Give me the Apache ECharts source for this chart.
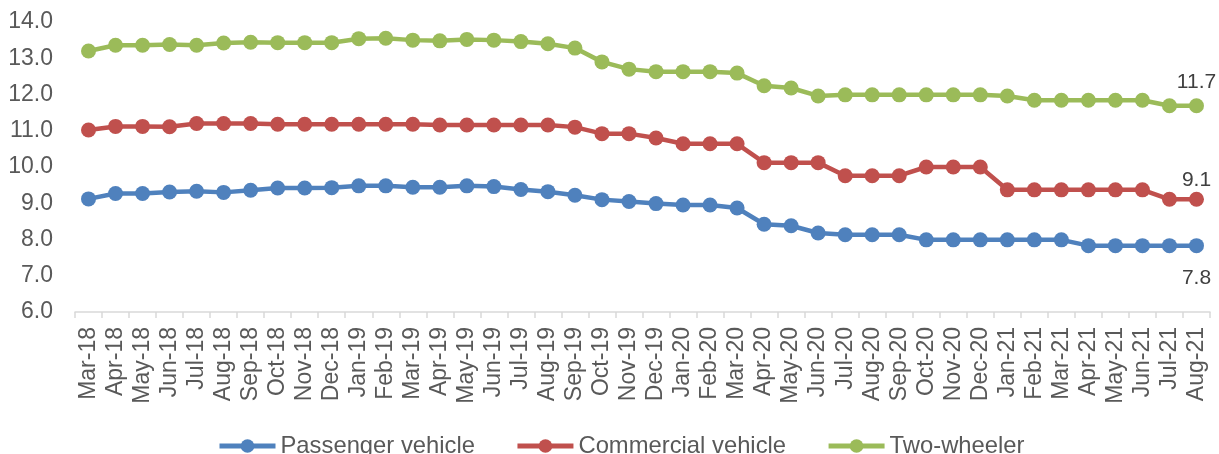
<!DOCTYPE html>
<html>
<head>
<meta charset="utf-8">
<script src="https://cdn.jsdelivr.net/npm/echarts@6/dist/echarts.min.js"></script>
<style>
  html, body { margin: 0; padding: 0; background: #fff; }
  #myChart { width: 1219px; height: 454px; }
</style>
</head>
<body>
<div id="myChart"></div>
<script>
let months = ['Mar-18', 'Apr-18', 'May-18', 'Jun-18', 'Jul-18', 'Aug-18', 'Sep-18', 'Oct-18', 'Nov-18', 'Dec-18',
  'Jan-19', 'Feb-19', 'Mar-19', 'Apr-19', 'May-19', 'Jun-19', 'Jul-19', 'Aug-19', 'Sep-19', 'Oct-19', 'Nov-19', 'Dec-19',
  'Jan-20', 'Feb-20', 'Mar-20', 'Apr-20', 'May-20', 'Jun-20', 'Jul-20', 'Aug-20', 'Sep-20', 'Oct-20', 'Nov-20', 'Dec-20',
  'Jan-21', 'Feb-21', 'Mar-21', 'Apr-21', 'May-21', 'Jun-21', 'Jul-21', 'Aug-21'];

let passenger = [9.12, 9.27, 9.27, 9.31, 9.33, 9.3, 9.36, 9.42, 9.42, 9.43,
  9.48, 9.48, 9.44, 9.44, 9.48, 9.46, 9.38, 9.32, 9.22, 9.1, 9.05, 8.99,
  8.95, 8.95, 8.87, 8.42, 8.38, 8.18, 8.13, 8.13, 8.13, 7.99, 7.99, 7.99,
  7.99, 7.99, 7.99, 7.83, 7.83, 7.83, 7.83, 7.83];

let commercial = [11.02, 11.12, 11.12, 11.11, 11.2, 11.2, 11.2, 11.18, 11.18, 11.18,
  11.18, 11.18, 11.18, 11.16, 11.16, 11.16, 11.16, 11.16, 11.1, 10.92, 10.92, 10.8,
  10.64, 10.64, 10.64, 10.12, 10.12, 10.12, 9.76, 9.76, 9.76, 10.0, 10.0, 10.0,
  9.37, 9.37, 9.37, 9.37, 9.37, 9.37, 9.11, 9.11];

let twoWheeler = [13.2, 13.36, 13.36, 13.38, 13.36, 13.42, 13.44, 13.43, 13.43, 13.43,
  13.54, 13.55, 13.5, 13.48, 13.52, 13.5, 13.46, 13.4, 13.28, 12.9, 12.7, 12.63,
  12.63, 12.63, 12.59, 12.24, 12.18, 11.96, 11.99, 11.99, 11.99, 11.99, 11.99, 11.99,
  11.96, 11.84, 11.84, 11.84, 11.84, 11.84, 11.69, 11.69];

let seriesNames = ['Passenger vehicle', 'Commercial vehicle', 'Two-wheeler'];
let seriesColors = ['#4F81BD', '#C0504D', '#9BBB59'];
// where the end value label sits, and how far from the marker
let lastLabelPos = ['bottom', 'top', 'top'];
let lastLabelGap = [15, 1, 6];

let font = 'Liberation Sans, Arial, sans-serif';

function buildData(values, pos, gap) {
  return values.map(function (v, i) {
    if (i !== values.length - 1) return v;
    return {
      value: v,
      label: {
        show: true,
        position: pos,
        distance: gap,
        color: '#404040',
        fontSize: 21,
        fontFamily: font,
        formatter: function (p) { return p.value.toFixed(1); }
      }
    };
  });
}

let allValues = [passenger, commercial, twoWheeler];

let option = {
  animation: false,
  grid: { left: 75, right: 9, top: 22, bottom: 142 },
  legend: {
    left: 217,
    top: 434,
    padding: 0,
    itemWidth: 56,
    itemHeight: 17,
    itemGap: 40,
    lineStyle: { width: 5 },
    textStyle: { color: '#595959', fontSize: 23.8, fontFamily: font },
    data: seriesNames
  },
  xAxis: {
    type: 'category',
    data: months,
    boundaryGap: true,
    axisLine: { lineStyle: { color: '#D9D9D9', width: 1.5 } },
    axisTick: { show: true, length: 6, lineStyle: { color: '#D9D9D9', width: 1.5 } },
    axisLabel: {
      interval: 0,
      rotate: 90,
      margin: 15,
      color: '#595959',
      fontSize: 23,
      fontFamily: font
    },
    splitLine: { show: false }
  },
  yAxis: {
    type: 'value',
    min: 6,
    max: 14,
    interval: 1,
    axisLine: { show: false },
    axisTick: { show: false },
    splitLine: { show: false },
    axisLabel: {
      margin: 22,
      color: '#595959',
      fontSize: 23,
      fontFamily: font,
      formatter: function (v) { return v.toFixed(1); }
    }
  },
  series: seriesNames.map(function (name, k) {
    return {
      name: name,
      type: 'line',
      data: buildData(allValues[k], lastLabelPos[k], lastLabelGap[k]),
      symbol: 'circle',
      symbolSize: 15,
      color: seriesColors[k],
      lineStyle: { width: 4.5, color: seriesColors[k] },
      itemStyle: { color: seriesColors[k] }
    };
  })
};

let myChart = echarts.init(document.getElementById('myChart'));
myChart.setOption(option);
</script>
</body>
</html>
